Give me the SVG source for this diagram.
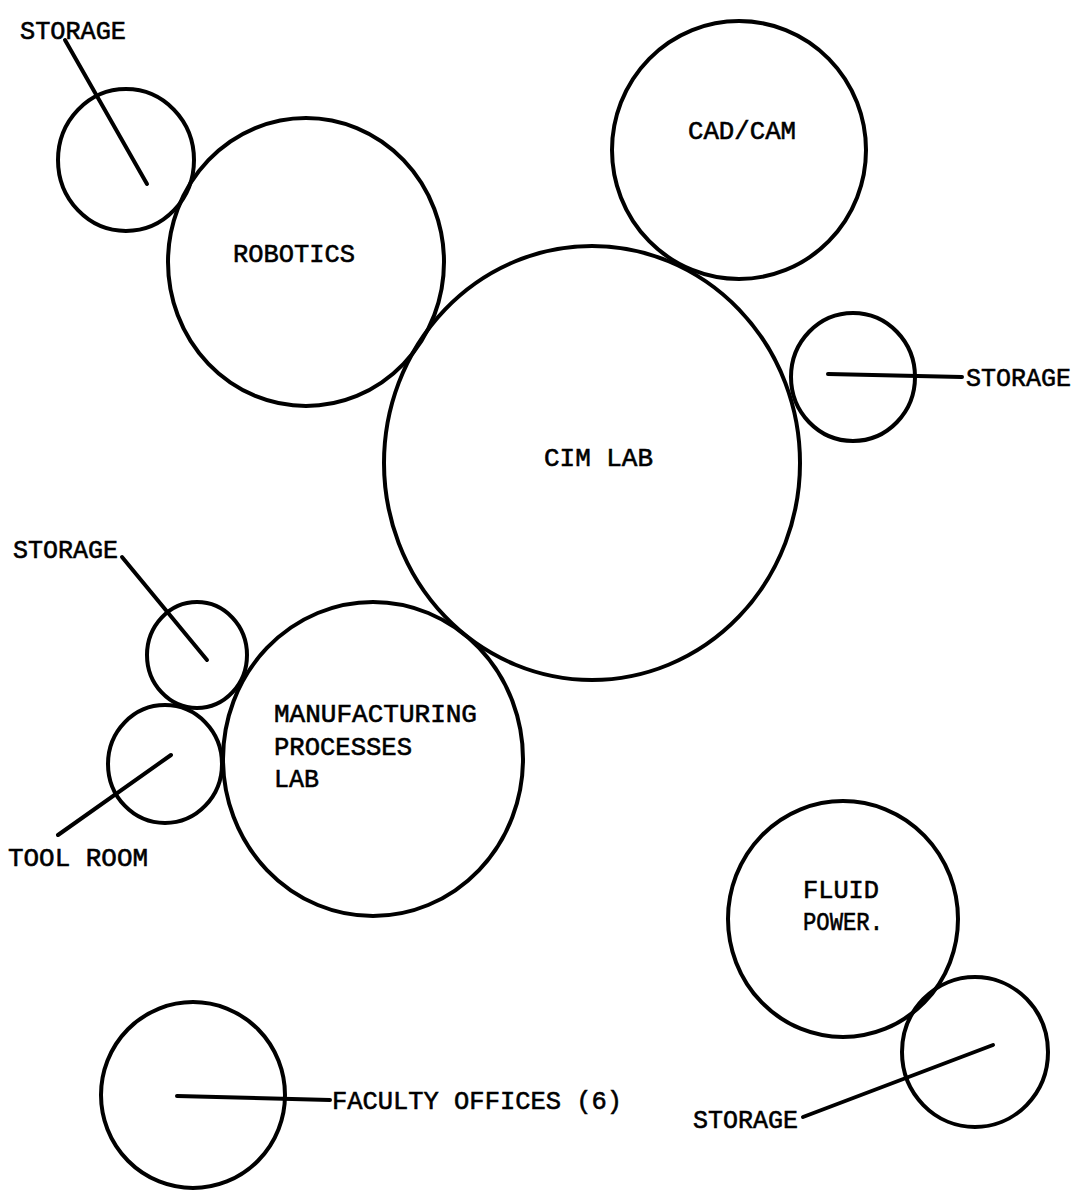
<svg xmlns="http://www.w3.org/2000/svg" width="1075" height="1190" viewBox="0 0 1075 1190">
<style>
  .room { fill: none; stroke: #000; stroke-width: 4; }
  .lead { stroke: #000; stroke-width: 4; stroke-linecap: round; fill: none; }
  text { font-family: "Liberation Mono", "Courier New", monospace; font-size: 26px; fill: #000; stroke: #000; stroke-width: 0.6; }
</style>
<rect x="0" y="0" width="1075" height="1190" fill="#fff"/>
<g id="storage-tl">
  <ellipse class="room" cx="126" cy="160" rx="68" ry="71"/>
  <text x="20" y="39" textLength="106" lengthAdjust="spacingAndGlyphs">STORAGE</text>
</g>
<g id="robotics">
  <ellipse class="room" cx="306" cy="262" rx="138" ry="144"/>
  <text x="233" y="262" textLength="122" lengthAdjust="spacingAndGlyphs">ROBOTICS</text>
</g>
<g id="cadcam">
  <ellipse class="room" cx="739" cy="150" rx="127" ry="129"/>
  <text x="688" y="139" textLength="108" lengthAdjust="spacingAndGlyphs">CAD/CAM</text>
</g>
<g id="cim-lab">
  <ellipse class="room" cx="592" cy="463" rx="208" ry="217"/>
  <text x="544" y="466" textLength="109" lengthAdjust="spacingAndGlyphs">CIM LAB</text>
</g>
<g id="storage-r">
  <ellipse class="room" cx="853" cy="377" rx="62" ry="64"/>
  <text x="966" y="386" textLength="105" lengthAdjust="spacingAndGlyphs">STORAGE</text>
</g>
<g id="storage-ml">
  <ellipse class="room" cx="197" cy="655" rx="50" ry="53"/>
  <text x="13" y="558" textLength="105" lengthAdjust="spacingAndGlyphs">STORAGE</text>
</g>
<g id="tool-room">
  <ellipse class="room" cx="165" cy="764" rx="57" ry="59"/>
  <text x="8" y="866" textLength="140" lengthAdjust="spacingAndGlyphs">TOOL ROOM</text>
</g>
<g id="manufacturing">
  <ellipse class="room" cx="373" cy="759" rx="150" ry="157"/>
  <text x="274" y="722" textLength="203" lengthAdjust="spacingAndGlyphs">MANUFACTURING</text>
  <text x="274" y="755" textLength="138" lengthAdjust="spacingAndGlyphs">PROCESSES</text>
  <text x="274" y="787" textLength="45" lengthAdjust="spacingAndGlyphs">LAB</text>
</g>
<g id="fluid-power">
  <ellipse class="room" cx="843" cy="919" rx="115" ry="118"/>
  <text x="803" y="898" textLength="76" lengthAdjust="spacingAndGlyphs">FLUID</text>
  <text x="803" y="930" textLength="80" lengthAdjust="spacingAndGlyphs">POWER.</text>
</g>
<g id="storage-br">
  <ellipse class="room" cx="975" cy="1052" rx="73" ry="75"/>
  <text x="693" y="1128" textLength="105" lengthAdjust="spacingAndGlyphs">STORAGE</text>
</g>
<g id="faculty">
  <ellipse class="room" cx="193" cy="1095" rx="92" ry="93"/>
  <text x="332" y="1109" textLength="290" lengthAdjust="spacingAndGlyphs">FACULTY OFFICES (6)</text>
</g>
<g id="connectors">
  <line class="lead" x1="65" y1="40" x2="147" y2="184"/>
  <line class="lead" x1="828" y1="374" x2="962" y2="377"/>
  <line class="lead" x1="122" y1="557" x2="207" y2="660"/>
  <line class="lead" x1="171" y1="755" x2="58" y2="835"/>
  <line class="lead" x1="177" y1="1096" x2="330" y2="1100"/>
  <line class="lead" x1="993" y1="1045" x2="803" y2="1117"/>
</g>
</svg>
